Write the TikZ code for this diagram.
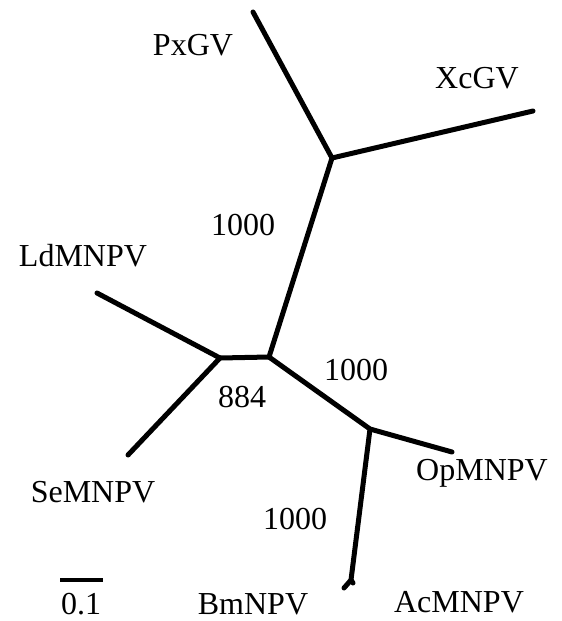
\documentclass[tikz,border=0pt]{standalone}
\usepackage{fontspec}
\setmainfont{Liberation Serif}
\begin{document}
\begin{tikzpicture}[x=1pt,y=-1pt,
  branch/.style={line width=5pt,line cap=round,line join=round},
  taxon/.style={font=\fontsize{32}{36}\selectfont,inner sep=0pt},
  boot/.style={font=\fontsize{32}{36}\selectfont,inner sep=0pt}]
\useasboundingbox (0,0) rectangle (562,621);
% internal nodes of the unrooted tree
\coordinate (g) at (332,158);
\coordinate (m) at (269,357);
\coordinate (l) at (220,358);
\coordinate (n) at (370,429);
\coordinate (b) at (351,580);
% tips
\coordinate (px) at (253,12);
\coordinate (xc) at (533,111);
\coordinate (ld) at (97,293);
\coordinate (se) at (128,455);
\coordinate (op) at (452,452);
\coordinate (bm) at (344,588);
\coordinate (ac) at (353,583);
% branches
\draw[branch] (px) -- (g) -- (xc);
\draw[branch] (g) -- (m) -- (l);
\draw[branch] (ld) -- (l) -- (se);
\draw[branch] (m) -- (n) -- (op);
\draw[branch] (n) -- (b) -- (bm);
\draw[branch] (b) -- (ac);
% taxon labels
\node[taxon] (tpx) at (193,45) {PxGV};
\node[taxon] (txc) at (477,78) {XcGV};
\node[taxon] (tld) at (83,256) {LdMNPV};
\node[taxon] (tse) at (93,492) {SeMNPV};
\node[taxon] (top) at (482,473) {OpMNPV};
\node[taxon] (tbm) at (253,604) {BmNPV};
\node[taxon] (tac) at (459,602) {AcMNPV};
% bootstrap values
\node[boot] (b1) at (243,225) {1000};
\node[boot] (b2) at (356,370) {1000};
\node[boot] (b3) at (242,397) {884};
\node[boot] (b4) at (295,519) {1000};
% scale bar
\coordinate (s1) at (60,580);
\coordinate (s2) at (103,580);
\draw[line width=4.5pt] (s1) -- (s2);
\node[taxon] (sl) at (81,604) {0.1};
\end{tikzpicture}
\end{document}
